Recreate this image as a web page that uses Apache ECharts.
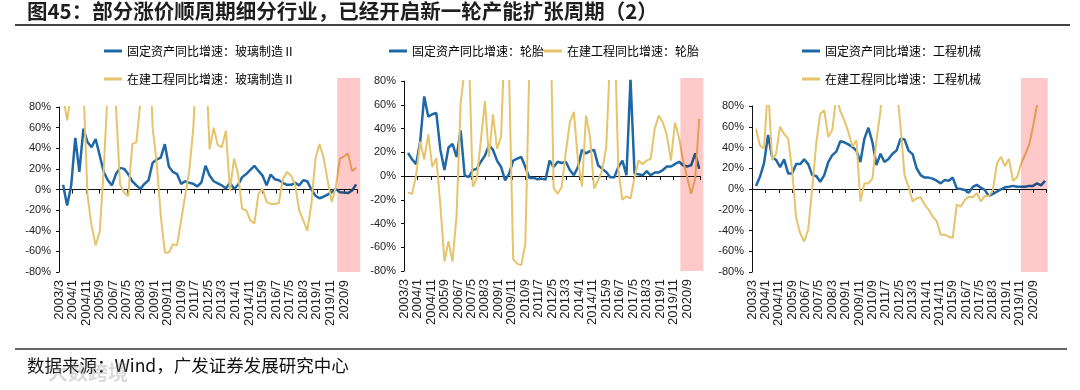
<!DOCTYPE html>
<html><head><meta charset="utf-8">
<script src="https://cdn.jsdelivr.net/npm/echarts@6/dist/echarts.min.js"></script>
<style>html,body{margin:0;padding:0;background:#fff}#c{width:1080px;height:390px}</style>
</head><body><div id="c"></div>
<script>
// quarterly observation dates
const quarters = ['2003/6','2003/9','2003/12',
 '2004/3','2004/6','2004/9','2004/12','2005/3','2005/6','2005/9','2005/12',
 '2006/3','2006/6','2006/9','2006/12','2007/3','2007/6','2007/9','2007/12',
 '2008/3','2008/6','2008/9','2008/12','2009/3','2009/6','2009/9','2009/12',
 '2010/3','2010/6','2010/9','2010/12','2011/3','2011/6','2011/9','2011/12',
 '2012/3','2012/6','2012/9','2012/12','2013/3','2013/6','2013/9','2013/12',
 '2014/3','2014/6','2014/9','2014/12','2015/3','2015/6','2015/9','2015/12',
 '2016/3','2016/6','2016/9','2016/12','2017/3','2017/6','2017/9','2017/12',
 '2018/3','2018/6','2018/9','2018/12','2019/3','2019/6','2019/9','2019/12',
 '2020/3','2020/6','2020/9','2020/12','2021/3','2021/6'];
const tickLabels = ['2003/3','2004/1','2004/11','2005/9','2006/7','2007/5','2008/3','2009/1','2009/11','2010/9','2011/7','2012/5','2013/3','2014/1','2014/11','2015/9','2016/7','2017/5','2018/3','2019/1','2019/11','2020/9'];

// Panel 1: 玻璃制造Ⅱ
const glassFAI = [4.5,-15.5,4,50,17,59,46,41,49,33,
 17,9,4,15,21,20,15,8,4,0.6,
 5.5,9,26,29,31,44,22,17,15,5.5,
 8,6.5,5.5,3,7,23,13.5,8,6,4,
 1,6.5,0.6,4.5,12,15,19,23,18,13.5,
 4,14.5,10,9,6.5,4.5,4.5,6.5,4,9,
 8,0,-6,-8.5,-7,-5,-2.5,0.6,-2.6,-3,
 -3.5,-1,5];
const glassCIP = [90,67,95,150,150,100,-6,-35,-54,-41,
 20,100,140,80,5,-3,-6.5,44,46,85,
 150,160,60,26,-25,-61,-61,-53,-54,-30,
 -6,18,60,140,160,130,39,60,43,41,
 57,-1,30,15,-19,-20,-30,-33,-4,0.6,
 -12,-14,-14,-13,10,17,13.5,5,-20,-30,
 -40,-14,30,44,31,8.7,-12,2.2,30,32,
 35,18,21];
// Panel 2: 轮胎
const tireFAI = [19.4,14,10,29,67,50,52,53,22,5,
 24,27,16,38.5,0.6,-1,5,6,12,17,
 26,22,13,7.6,-3.6,2,13,14.6,16,7.6,
 -1.7,-1.4,-2.8,-2.2,-3,13,7.6,12,11,12,
 5,0.6,7.6,22,19,21,22,9,6,3.4,
 -1,-1,7.6,13,0.6,82,2,1.4,0.6,4,
 0.6,3,3,5,8,8,10,12,9,8,
 9,19,6];
const tireCIP = [-14,-15,0.6,29,14,35,7.6,15,-25,-72,
 -55,-72,-33,61,90,110,-9,-2,30,63,
 16,52,23,33,127,82,-70,-74,-75,-57,
 93,160,170,160,160,170,-10,-15,-9,20,
 45,54,13,-9,51,33,-10.7,-3.6,5,24,
 104,130,5,-20,-17,-19,-1,13,10,13,
 14.6,40,51,45,34,13,45,32,13,-1,
 -15,-2,48];
// Panel 3: 工程机械
const machFAI = [3,12,25,52,31,28,21,28.5,15,15,
 24,24,28.5,24,13.4,12.5,7,13.4,26,32.6,
 36,46,45,43,40.6,37,26,48.6,59,45,
 23,34,26,29,34,37,48.6,47.7,37,33.6,
 20,13.4,11,11,10,8,5.4,8.6,8,11,
 0.6,0,-1,-3.5,2,4,1.3,-1,-6.7,-4.8,
 -2.6,-0.3,1.6,2.2,3,2.2,2.2,2.2,3,3,
 5.4,3.5,8];
const machCIP = [58,42,39,100,28,34,60,53,48.6,18,
 -28,-42.6,-50.6,-39,0.6,44,72.6,76,50,57,
 90,75,66,55,41,47,-12,5.4,5.4,10,
 47,75,130,150,150,100,60,13.4,2.2,-12,
 -9,-8,-15,-20,-26.6,-31,-44,-44,-46,-47,
 -15,-17,-10.6,-7.4,-8,-4,-12,-6.7,-6.7,-1,
 24.6,31,22,29,8,11,24,33,42,60,
 81,null,null];

const faiNames = ['固定资产同比增速：玻璃制造Ⅱ','固定资产同比增速：轮胎','固定资产同比增速：工程机械'];
const cipNames = ['在建工程同比增速：玻璃制造Ⅱ','在建工程同比增速：轮胎','在建工程同比增速：工程机械'];
const highlight = [['2020/4','2021/9'],['2020/4','2021/9'],['2019/12','2021/8']];

const BLUE = '#1f67a6', YELLOW = '#e6c46c';
const CJK = "'Noto Sans CJK SC', sans-serif";
const LAT = "'Liberation Sans', Arial, sans-serif";

function monthIndex(s){ const p = s.split('/').map(Number); return (p[0]-2003)*12 + (p[1]-3); }
function pairs(vals){ return quarters.map((q,i)=>[monthIndex(q), vals[i]===null ? '-' : vals[i]]); }

const panels = [
  {left:59, top:107, width:298.5, height:165, fai:glassFAI, cip:glassCIP,
   leg:[{left:104,top:44},{left:104,top:72}]},
  {left:404, top:81, width:296.6, height:190, fai:tireFAI, cip:tireCIP,
   leg:[{left:389,top:44},{left:544,top:44}]},
  {left:752, top:106, width:294.4, height:166, fai:machFAI, cip:machCIP,
   leg:[{left:802,top:44},{left:802,top:72}]}
];

const grid=[], xAxis=[], yAxis=[], series=[], legend=[];
panels.forEach((p,i)=>{
  grid.push({left:p.left, top:p.top, width:p.width, height:p.height, containLabel:false});
  xAxis.push({type:'value', gridIndex:i, min:0, max:220, interval:10, position:'bottom',
    axisLine:{show:true, onZero:true, lineStyle:{color:'#111', width:1}},
    axisTick:{show:true, length:4, inside:false, lineStyle:{color:'#111'}},
    axisLabel:{show:false}, splitLine:{show:false}});
  xAxis.push({type:'value', gridIndex:i, min:0, max:220, interval:10, position:'bottom',
    axisLine:{show:false, onZero:false}, axisTick:{show:false}, splitLine:{show:false},
    axisLabel:{show:true, rotate:90, margin:8, fontSize:13, lineHeight:12, color:'#222', fontFamily:LAT,
      showMinLabel:true, hideOverlap:false,
      formatter:v=>{ const k=v/10; return Number.isInteger(k) && tickLabels[k] ? tickLabels[k] : ''; }}});
  yAxis.push({type:'value', gridIndex:i, min:-80, max:80, interval:20,
    axisLine:{show:true, onZero:false, lineStyle:{color:'#111', width:1}},
    axisTick:{show:true, length:3, lineStyle:{color:'#111'}},
    splitLine:{show:false},
    axisLabel:{margin:8, fontSize:11, color:'#222', fontFamily:LAT, formatter:'{value}%'}});
  series.push({type:'line', name:faiNames[i], xAxisIndex:2*i, yAxisIndex:i, data:pairs(p.fai),
    showSymbol:false, symbol:'none', clip:true, lineStyle:{color:BLUE, width:2.5}, itemStyle:{color:BLUE}, z:2});
  series.push({type:'line', name:cipNames[i], xAxisIndex:2*i, yAxisIndex:i, data:pairs(p.cip),
    showSymbol:false, symbol:'none', clip:true, lineStyle:{color:YELLOW, width:2}, itemStyle:{color:YELLOW}, z:2});
  [faiNames[i], cipNames[i]].forEach((n,j)=>{
    legend.push({data:[n], left:p.leg[j].left, top:p.leg[j].top, padding:0, icon:'rect',
      itemWidth:18, itemHeight:3, selectedMode:false,
      textStyle:{fontSize:12, color:'#000', fontFamily:CJK, lineHeight:14}});
  });
});

const chart = echarts.init(document.getElementById('c'), null, {renderer:'canvas'});
chart.setOption({
  animation:false,
  backgroundColor:'#fff',
  title:{text:'图45：部分涨价顺周期细分行业，已经开启新一轮产能扩张周期（2）', left:27, top:1, padding:0,
    textStyle:{fontSize:20.5, fontWeight:'bold', color:'#1e1e1e', fontFamily:CJK}},
  grid, xAxis, yAxis, series, legend,
  graphic:{elements:[
    {id:'topline', type:'line', shape:{x1:15,y1:25,x2:1070,y2:25}, style:{stroke:'#444', lineWidth:2}},
    {id:'botline', type:'line', shape:{x1:15,y1:349,x2:1067,y2:349}, style:{stroke:'#333', lineWidth:1.5}},
    {id:'src', type:'text', left:27, top:357, style:{text:'数据来源：Wind，广发证券发展研究中心', fontSize:17.5, fill:'#111', fontFamily:CJK}},
    {id:'wm', type:'text', left:48, top:362, z:200, style:{text:'大数跨境', fontSize:20, fontWeight:'bold', fill:'rgba(150,150,150,0.35)', fontFamily:CJK}}
  ]}
});

const pinks = highlight.map((h,i)=>{
  const x0 = chart.convertToPixel({xAxisIndex:2*i}, monthIndex(h[0]));
  const x1 = chart.convertToPixel({xAxisIndex:2*i}, monthIndex(h[1]));
  const yb = chart.convertToPixel({yAxisIndex:i}, -80);
  return {id:'pink'+i, type:'rect', z:100, silent:true,
    shape:{x:x0, y:78, width:x1-x0, height:yb-78},
    style:{fill:'rgba(255,120,120,0.4)', blend:'multiply'}};
});
chart.setOption({graphic:{elements:pinks}});
</script></body></html>
